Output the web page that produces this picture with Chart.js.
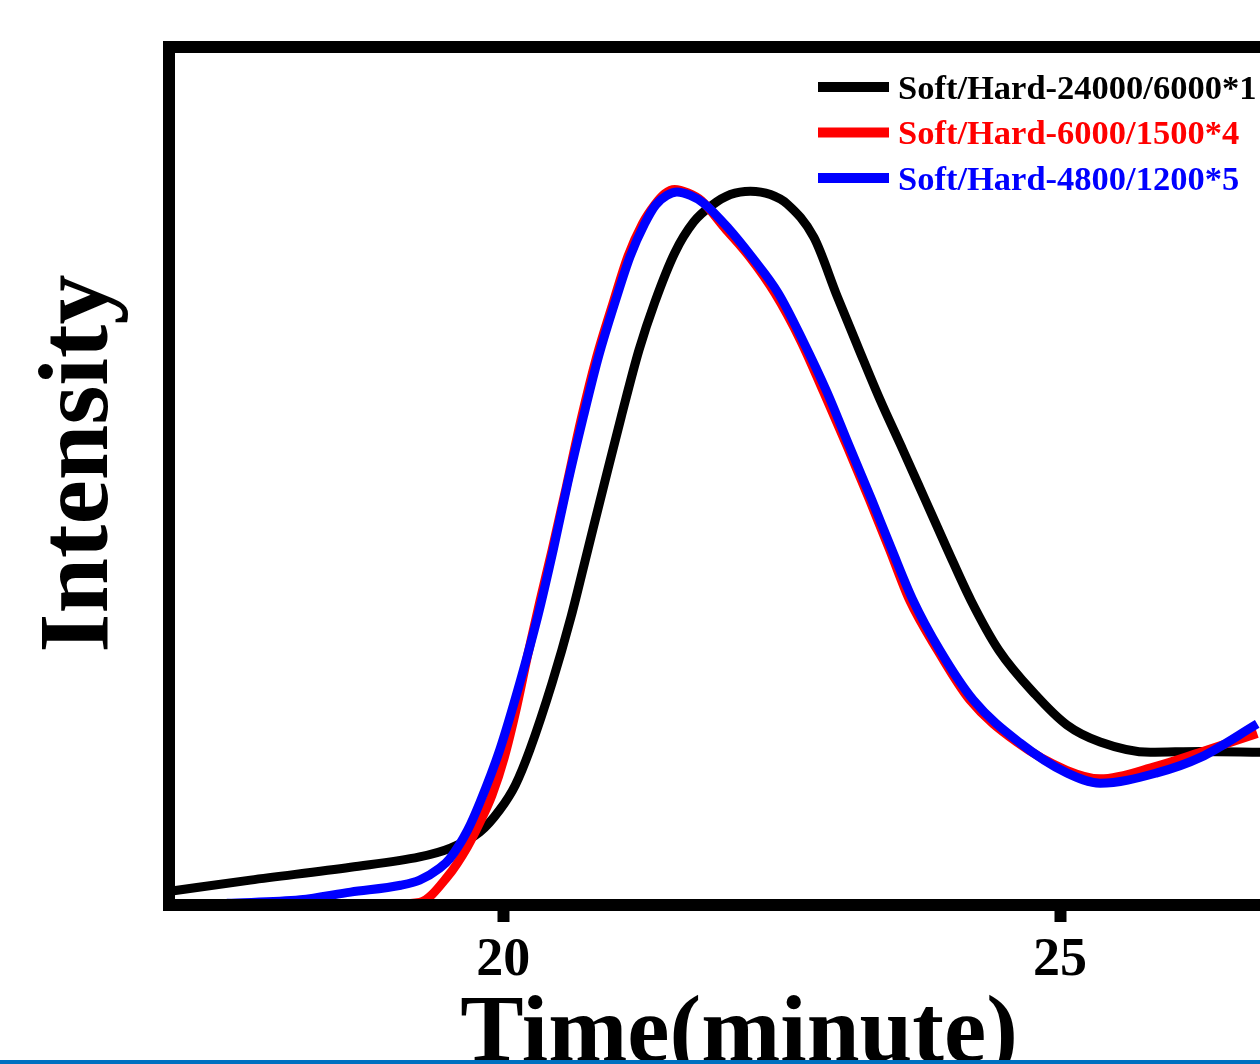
<!DOCTYPE html>
<html lang="en">
<head>
<meta charset="UTF-8">
<title>Time(minute) vs Intensity</title>
<style>
    html, body { margin: 0; padding: 0; background: #fff; width: 1260px; height: 1064px; overflow: hidden; }
    #wrap { position: absolute; left: 0; top: 0; }
    #bar { position: absolute; left: 0; bottom: 0; width: 1260px; height: 4px; background: #0070c0; }
</style>
</head>
<body>
<div id="wrap"><canvas id="gpcChart" width="1340" height="1120"></canvas></div>
<div id="bar"></div>

<script src="https://cdn.jsdelivr.net/npm/chart.js"></script>
<script>
    const seriesLabels = ['Soft/Hard-24000/6000*1', 'Soft/Hard-6000/1500*4', 'Soft/Hard-4800/1200*5'];
    const seriesColors = ['#000000', '#ff0000', '#0000ff'];
    const xTicks = [20, 25];

    // elution time (minute) and normalised detector intensity for each sample
    const timeA = [17.01, 17.73, 18.63, 19.25, 19.52, 19.79, 19.97, 20.11, 20.24, 20.44, 20.61, 20.76, 20.91, 21.06, 21.22, 21.36, 21.54, 21.71, 21.88, 22.04, 22.22, 22.40, 22.55, 22.79, 23.00, 23.19, 23.38, 23.59, 23.79, 23.99, 24.20, 24.45, 24.78, 25.06, 25.36, 25.81, 26.26, 26.80];
    const intensityA = [0.016, 0.029, 0.044, 0.056, 0.066, 0.085, 0.111, 0.140, 0.181, 0.259, 0.336, 0.414, 0.492, 0.569, 0.647, 0.702, 0.760, 0.796, 0.816, 0.828, 0.832, 0.828, 0.817, 0.778, 0.709, 0.649, 0.590, 0.530, 0.472, 0.414, 0.355, 0.297, 0.245, 0.210, 0.190, 0.178, 0.179, 0.178];

    const timeB = [19.01, 19.25, 19.50, 19.68, 19.79, 19.90, 20.01, 20.12, 20.22, 20.33, 20.44, 20.57, 20.70, 20.84, 20.99, 21.12, 21.25, 21.36, 21.45, 21.54, 21.66, 21.78, 21.99, 22.22, 22.44, 22.67, 22.88, 23.09, 23.29, 23.47, 23.65, 23.90, 24.19, 24.61, 25.06, 25.36, 25.87, 26.26, 26.77];
    const intensityB = [0.001, 0.003, 0.033, 0.068, 0.096, 0.128, 0.172, 0.230, 0.291, 0.354, 0.414, 0.489, 0.566, 0.639, 0.703, 0.756, 0.794, 0.816, 0.829, 0.834, 0.830, 0.821, 0.789, 0.754, 0.713, 0.658, 0.597, 0.534, 0.472, 0.414, 0.355, 0.297, 0.239, 0.190, 0.157, 0.147, 0.162, 0.178, 0.200];

    const timeC = [17.52, 18.18, 18.63, 19.08, 19.25, 19.43, 19.52, 19.68, 19.79, 19.97, 20.15, 20.31, 20.45, 20.58, 20.72, 20.86, 21.01, 21.14, 21.27, 21.37, 21.47, 21.56, 21.68, 21.80, 22.02, 22.24, 22.47, 22.69, 22.91, 23.11, 23.31, 23.49, 23.68, 23.92, 24.22, 24.64, 25.06, 25.36, 25.87, 26.26, 26.77];
    const intensityC = [0.002, 0.006, 0.015, 0.023, 0.029, 0.043, 0.054, 0.087, 0.119, 0.181, 0.259, 0.336, 0.414, 0.492, 0.569, 0.641, 0.705, 0.756, 0.794, 0.816, 0.827, 0.831, 0.827, 0.818, 0.789, 0.754, 0.713, 0.658, 0.597, 0.534, 0.472, 0.414, 0.355, 0.297, 0.239, 0.189, 0.154, 0.142, 0.154, 0.172, 0.211];

    const serif = '"Liberation Serif", "Times New Roman", serif';

    function toPoints(xs, ys) {
        return xs.map((x, i) => ({ x: x, y: ys[i] }));
    }

    // thick box around the plot, drawn over the curves
    const frame = {
        id: 'frame',
        afterDatasetsDraw(chart) {
            const { ctx, chartArea: a } = chart;
            ctx.save();
            ctx.strokeStyle = '#000';
            ctx.lineWidth = 12;
            ctx.lineJoin = 'miter';
            ctx.strokeRect(a.left, a.top, a.right - a.left, a.bottom - a.top);
            ctx.restore();
        }
    };

    // stacked legend in the upper right, text coloured like its line
    const legendBox = {
        id: 'legendBox',
        afterDraw(chart) {
            const ctx = chart.ctx;
            ctx.save();
            ctx.font = 'bold 34.5px ' + serif;
            ctx.textBaseline = 'alphabetic';
            ctx.textAlign = 'left';
            chart.data.datasets.forEach((ds, i) => {
                const y = 87 + i * 45.5;
                ctx.strokeStyle = ds.borderColor;
                ctx.lineWidth = 10;
                ctx.beginPath();
                ctx.moveTo(818, y);
                ctx.lineTo(889, y);
                ctx.stroke();
                ctx.fillStyle = ds.borderColor;
                ctx.fillText(ds.label, 898, y + 11.5);
            });
            ctx.restore();
        }
    };

    const series = [toPoints(timeA, intensityA), toPoints(timeB, intensityB), toPoints(timeC, intensityC)];

    new Chart(document.getElementById('gpcChart'), {
        type: 'line',
        data: {
            datasets: series.map((pts, i) => ({
                label: seriesLabels[i],
                data: pts,
                borderColor: seriesColors[i],
                borderWidth: 9,
                pointRadius: 0,
                fill: false,
                cubicInterpolationMode: 'monotone',
                order: 2 - i
            }))
        },
        options: {
            responsive: false,
            animation: false,
            layout: { padding: { top: 47, right: 31, bottom: 0, left: 0 } },
            plugins: {
                legend: { display: false },
                tooltip: { enabled: false }
            },
            scales: {
                x: {
                    type: 'linear',
                    min: 17,
                    max: 27.235,
                    afterBuildTicks: (scale) => { scale.ticks = xTicks.map(v => ({ value: v })); },
                    afterFit: (scale) => { scale.height = 215; },
                    border: { display: false },
                    grid: {
                        drawOnChartArea: false,
                        drawTicks: true,
                        tickLength: 17,
                        tickWidth: 12,
                        tickColor: '#000'
                    },
                    ticks: {
                        color: '#000',
                        padding: 7,
                        maxRotation: 0,
                        font: { family: serif, size: 54, weight: 'bold' },
                        callback: (v) => String(v)
                    },
                    title: {
                        display: true,
                        text: 'Time(minute)',
                        color: '#000',
                        padding: { top: 0, bottom: 36 },
                        font: { family: serif, size: 95, weight: 'bold', lineHeight: 1 }
                    }
                },
                y: {
                    min: 0,
                    max: 1,
                    afterFit: (scale) => { scale.width = 169; },
                    border: { display: false },
                    grid: { display: false },
                    ticks: { display: false },
                    title: {
                        display: true,
                        text: ' Intensity',
                        color: '#000',
                        padding: { top: 31, bottom: 0 },
                        font: { family: serif, size: 100, weight: 'bold', lineHeight: 1 }
                    }
                }
            }
        },
        plugins: [frame, legendBox]
    });
</script>
</body>
</html>
